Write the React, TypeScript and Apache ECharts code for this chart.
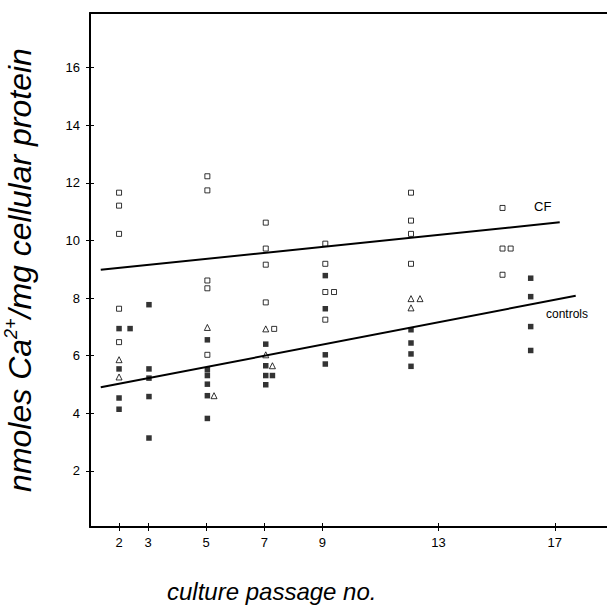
import React, { useEffect, useRef } from "react";
import * as echarts from "echarts";

// Open squares (CF patients)
const cfOpen: [number, number][] = [
  [2, 11.66], [2, 11.21], [2, 10.23], [2, 7.63], [2, 6.47],
  [5.04, 12.23], [5.04, 11.74], [5.04, 8.61], [5.04, 8.34], [5.04, 6.03],
  [7.05, 10.62], [7.05, 9.72], [7.05, 9.16], [7.05, 7.85], [7.34, 6.93],
  [9.1, 9.89], [9.1, 9.19], [9.1, 8.21], [9.4, 8.21], [9.1, 7.25],
  [12.05, 11.66], [12.05, 10.69], [12.05, 10.23], [12.05, 9.19],
  [15.2, 11.13], [15.2, 9.72], [15.48, 9.72], [15.2, 8.81],
];

// Open triangles
const triangles: [number, number][] = [
  [2, 5.86], [2, 5.26],
  [5.04, 6.98], [5.27, 4.61],
  [7.05, 6.93], [7.05, 6.03], [7.28, 5.65],
  [12.05, 7.98], [12.36, 7.98], [12.05, 7.66],
];

// Filled squares (controls)
const controlsFilled: [number, number][] = [
  [2, 6.94], [2.38, 6.94], [2, 5.54], [2, 4.53], [2, 4.14],
  [3.03, 7.77], [3.03, 5.54], [3.03, 5.22], [3.03, 4.58], [3.03, 3.14],
  [5.04, 6.55], [5.04, 5.51], [5.04, 5.31], [5.04, 5.01], [5.04, 4.61], [5.04, 3.82],
  [7.05, 6.4], [7.05, 5.65], [7.05, 5.31], [7.28, 5.31], [7.05, 4.99],
  [9.1, 8.78], [9.1, 7.63], [9.1, 6.03], [9.1, 5.71],
  [12.05, 6.9], [12.05, 6.44], [12.05, 6.06], [12.05, 5.63],
  [16.17, 8.69], [16.17, 8.05], [16.17, 7.01], [16.17, 6.18],
];

// Regression lines
const cfLine: [number, number][] = [[1.37, 8.98], [17.17, 10.63]];
const controlsLine: [number, number][] = [[1.37, 4.9], [17.72, 8.08]];

const xTickValues = [2, 3, 5, 7, 9, 13, 17];
const yTickValues = [2, 4, 6, 8, 10, 12, 14, 16];

const FONT = "'Liberation Sans', Arial, Helvetica, sans-serif";

export default function App() {
  const ref = useRef<HTMLDivElement>(null);

  useEffect(() => {
    if (!ref.current) return;
    const chart = echarts.init(ref.current, null, { renderer: "svg" });
    const axisBase = {
      type: "value",
      splitLine: { show: false },
      axisLabel: { show: false },
      axisTick: { show: false },
    };
    const titleBase = { padding: 0, itemGap: 0 };
    const option: any = {
      animation: false,
      backgroundColor: "#fff",
      title: [
        {
          ...titleBase,
          text: "culture passage no.",
          left: 167,
          top: 579,
          textStyle: { fontSize: 24, fontStyle: "italic", fontWeight: "normal", fontFamily: FONT, color: "#000" },
        },
        {
          ...titleBase,
          text: "CF",
          left: 534,
          top: 200,
          textStyle: { fontSize: 13, fontWeight: "normal", fontFamily: FONT, color: "#000" },
        },
        {
          ...titleBase,
          text: "controls",
          left: 546,
          top: 308,
          textStyle: { fontSize: 12, fontWeight: "normal", fontFamily: FONT, color: "#000" },
        },
      ],
      grid: {
        left: 90,
        width: 520,
        top: 13,
        height: 514,
        containLabel: false,
        outerBoundsMode: "none",
        show: false,
      },
      xAxis: [
        {
          ...axisBase,
          min: 1,
          max: 18.9,
          position: "bottom",
          offset: -4,
          axisLine: { show: false },
          axisTick: { show: true, customValues: xTickValues, length: 8, lineStyle: { color: "#000", width: 1 } },
          axisLabel: { show: true, customValues: xTickValues, color: "#000", fontSize: 13, margin: 13, fontFamily: FONT },
        },
        {
          ...axisBase,
          min: 1,
          max: 18.9,
          position: "bottom",
          axisLine: { show: true, onZero: false, lineStyle: { color: "#000", width: 2 } },
        },
        {
          ...axisBase,
          min: 1,
          max: 18.9,
          position: "top",
          axisLine: { show: true, onZero: false, lineStyle: { color: "#000", width: 1.8 } },
        },
      ],
      yAxis: [
        {
          ...axisBase,
          min: 0.05,
          max: 17.9,
          position: "left",
          offset: -4,
          axisLine: { show: false },
          axisTick: { show: true, customValues: yTickValues, length: 8, lineStyle: { color: "#000", width: 1 } },
          axisLabel: { show: true, customValues: yTickValues, color: "#000", fontSize: 13, margin: 14, fontFamily: FONT },
        },
        {
          ...axisBase,
          min: 0.05,
          max: 17.9,
          position: "left",
          axisLine: { show: true, onZero: false, lineStyle: { color: "#000", width: 2 } },
          name: "{a|nmoles Ca}{s|2+}{a|/mg cellular protein}",
          nameLocation: "middle",
          nameRotate: 90,
          nameGap: 54,
          nameTextStyle: {
            color: "#000",
            rich: {
              a: { fontSize: 32, fontStyle: "italic", fontFamily: FONT, color: "#000", lineHeight: 36, verticalAlign: "bottom" },
              s: { fontSize: 18, fontStyle: "italic", fontFamily: FONT, color: "#000", lineHeight: 36, verticalAlign: "top", padding: [2, 0, 0, 0] },
            },
          },
        },
      ],
      series: [
        {
          name: "CF",
          type: "scatter",
          data: cfOpen,
          symbol: "rect",
          symbolSize: 5,
          itemStyle: { color: "#fff", borderColor: "#000", borderWidth: 1 },
          z: 2,
        },
        {
          name: "triangles",
          type: "scatter",
          data: triangles,
          symbol: "triangle",
          symbolSize: 6,
          itemStyle: { color: "#fff", borderColor: "#000", borderWidth: 1 },
          z: 2,
        },
        {
          name: "controls",
          type: "scatter",
          data: controlsFilled,
          symbol: "rect",
          symbolSize: 5.5,
          itemStyle: { color: "#000" },
          z: 2,
        },
        {
          name: "CF line",
          type: "line",
          data: cfLine,
          symbol: "none",
          lineStyle: { color: "#000", width: 2 },
          z: 3,
        },
        {
          name: "controls line",
          type: "line",
          data: controlsLine,
          symbol: "none",
          lineStyle: { color: "#000", width: 2 },
          z: 3,
        },
      ],
    };
    chart.setOption(option);
    return () => chart.dispose();
  }, []);

  return (
    <div
      ref={ref}
      style={{ position: "fixed", left: 0, top: 0, width: 607, height: 607 }}
    />
  );
}
